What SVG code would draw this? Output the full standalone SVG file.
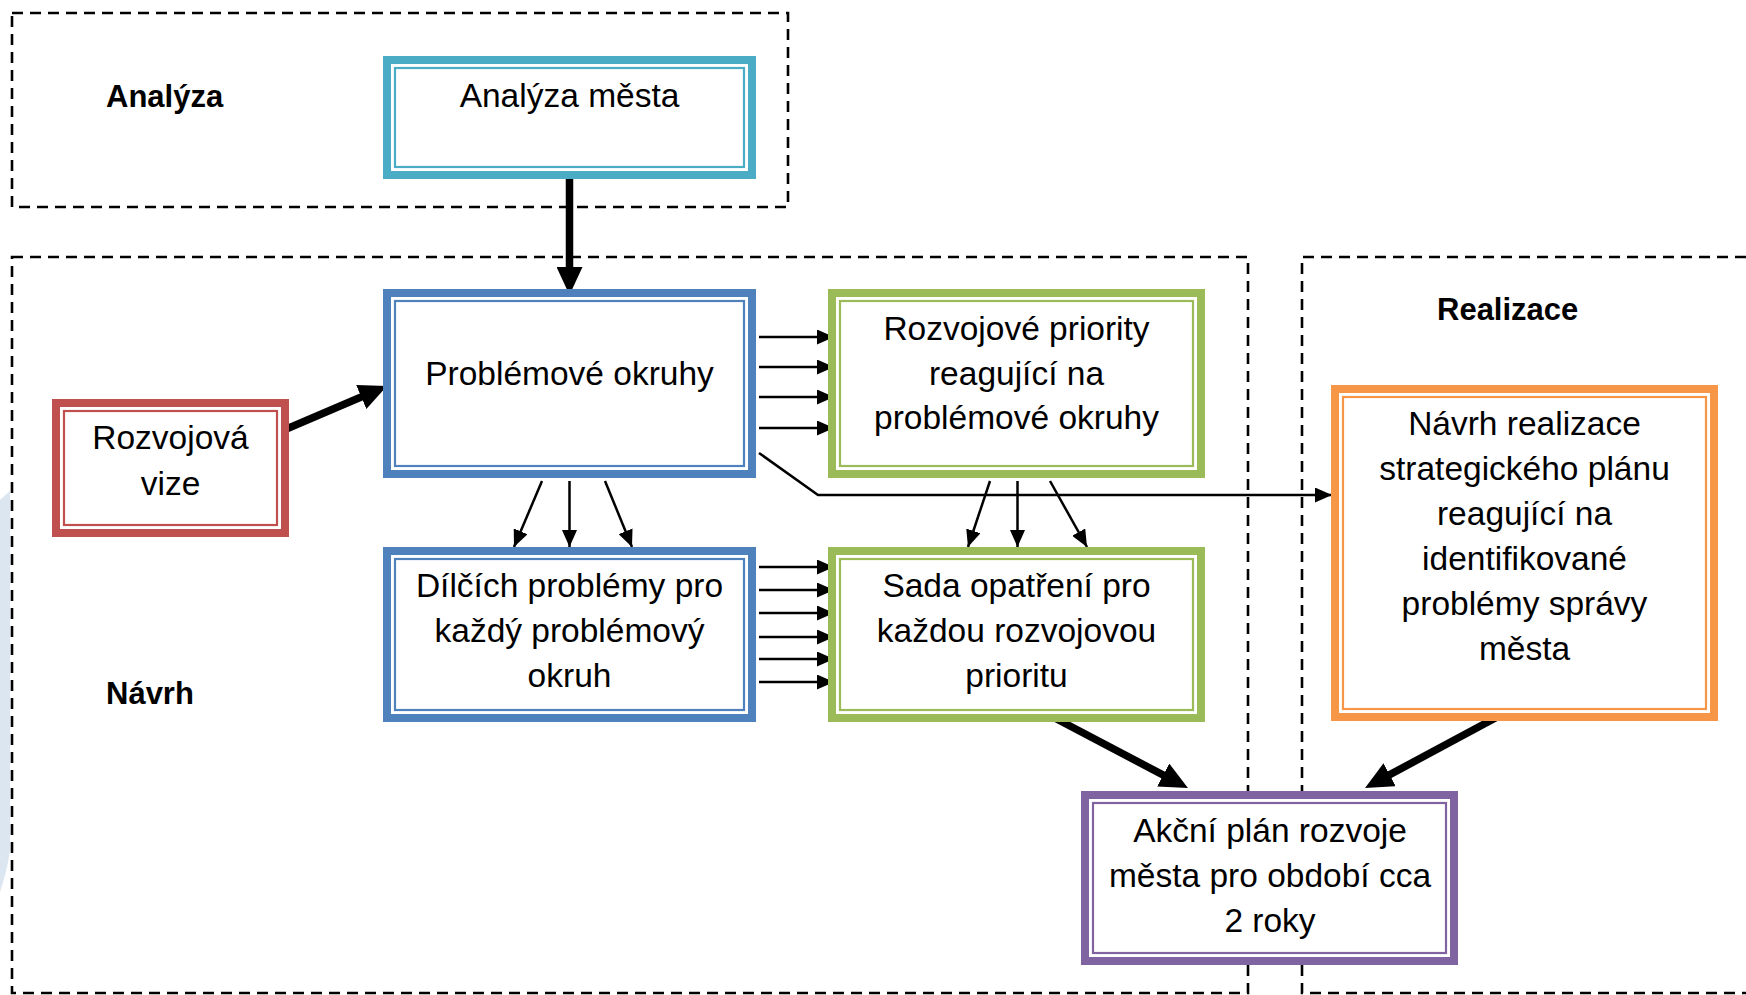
<svg xmlns="http://www.w3.org/2000/svg" width="1746" height="995" viewBox="0 0 1746 995">
  <defs>
    <style>
      .zone { fill: none; stroke: #000; stroke-width: 2.6; stroke-dasharray: 11 7; }
      .zlabel { font-family: "Liberation Sans", Arial, sans-serif; font-weight: bold; font-size: 31px; fill: #000; }
      .txt { font-family: "Liberation Sans", Arial, sans-serif; font-size: 33.5px; fill: #000; text-anchor: middle; }
      .outer { fill: #fff; stroke-width: 8; }
      .inner { fill: none; stroke-width: 2.2; }
      .thick { fill: none; stroke: #000; stroke-width: 7.5; }
      .thin { fill: none; stroke: #000; stroke-width: 2.5; }
    </style>
    <marker id="big" markerUnits="userSpaceOnUse" markerWidth="28" markerHeight="26" refX="12" refY="13" orient="auto">
      <path d="M0,0 L28,13 L0,26 Z" fill="#000"/>
    </marker>
    <marker id="small" markerUnits="userSpaceOnUse" markerWidth="17" markerHeight="15" refX="17" refY="7.5" orient="auto">
      <path d="M0,0 L17,7.5 L0,15 Z" fill="#000"/>
    </marker>
  </defs>

  <rect width="1746" height="995" fill="#fff"/>
  <path d="M0,500 L10,491 L10,850 C8,865 4,880 0,892 Z" fill="#DCE6F1"/>

  <g id="zones">
    <rect class="zone" x="12" y="13" width="776" height="194"/>
    <rect class="zone" x="12" y="257" width="1236" height="736"/>
    <path class="zone" d="M1746,257 H1302 V993 H1746"/>
    <text class="zlabel" x="106" y="107">Analýza</text>
    <text class="zlabel" x="106" y="704">Návrh</text>
    <text class="zlabel" x="1437" y="320">Realizace</text>
  </g>

  <g id="connectors">
    <line class="thick" x1="569.5" y1="179" x2="569.5" y2="279" marker-end="url(#big)"/>
    <line class="thick" x1="284" y1="430" x2="372.3" y2="392.3" marker-end="url(#big)"/>
    <line class="thick" x1="1051" y1="716" x2="1173.8" y2="780.6" marker-end="url(#big)"/>
    <line class="thick" x1="1499" y1="716" x2="1379.1" y2="780.4" marker-end="url(#big)"/>

    <line class="thin" x1="759" y1="337" x2="834" y2="337" marker-end="url(#small)"/>
    <line class="thin" x1="759" y1="367" x2="834" y2="367" marker-end="url(#small)"/>
    <line class="thin" x1="759" y1="397" x2="834" y2="397" marker-end="url(#small)"/>
    <line class="thin" x1="759" y1="428" x2="834" y2="428" marker-end="url(#small)"/>

    <line class="thin" x1="759" y1="567" x2="834" y2="567" marker-end="url(#small)"/>
    <line class="thin" x1="759" y1="590" x2="834" y2="590" marker-end="url(#small)"/>
    <line class="thin" x1="759" y1="613" x2="834" y2="613" marker-end="url(#small)"/>
    <line class="thin" x1="759" y1="637" x2="834" y2="637" marker-end="url(#small)"/>
    <line class="thin" x1="759" y1="659" x2="834" y2="659" marker-end="url(#small)"/>
    <line class="thin" x1="759" y1="682" x2="834" y2="682" marker-end="url(#small)"/>

    <polyline class="thin" points="759,453 818,495 1332,495" marker-end="url(#small)"/>

    <line class="thin" x1="542" y1="481" x2="514" y2="547" marker-end="url(#small)"/>
    <line class="thin" x1="569.5" y1="481" x2="569.5" y2="547" marker-end="url(#small)"/>
    <line class="thin" x1="605" y1="481" x2="632" y2="547" marker-end="url(#small)"/>

    <line class="thin" x1="990" y1="481" x2="968" y2="547" marker-end="url(#small)"/>
    <line class="thin" x1="1017.5" y1="481" x2="1017.5" y2="547" marker-end="url(#small)"/>
    <line class="thin" x1="1050" y1="481" x2="1087" y2="547" marker-end="url(#small)"/>
  </g>

  <g id="analyza-mesta">
    <rect class="outer" x="387" y="60" width="365" height="115" stroke="#4BACC6"/>
    <rect class="inner" x="395" y="68" width="349" height="99" stroke="#4BACC6"/>
    <text class="txt" x="569.5" y="107">Analýza města</text>
  </g>

  <g id="problemove-okruhy">
    <rect class="outer" x="387" y="293" width="365" height="181" stroke="#4F81BD"/>
    <rect class="inner" x="395" y="301" width="349" height="165" stroke="#4F81BD"/>
    <text class="txt" x="569.5" y="385">Problémové okruhy</text>
  </g>

  <g id="rozvojova-vize">
    <rect class="outer" x="56" y="403" width="229" height="130" stroke="#C0504D"/>
    <rect class="inner" x="64" y="411" width="213" height="114" stroke="#C0504D"/>
    <text class="txt" x="170.5" y="449">Rozvojová</text>
    <text class="txt" x="170.5" y="495">vize</text>
  </g>

  <g id="rozvojove-priority">
    <rect class="outer" x="832" y="293" width="369" height="181" stroke="#9BBB59"/>
    <rect class="inner" x="840" y="301" width="353" height="165" stroke="#9BBB59"/>
    <text class="txt" x="1016.5" y="340">Rozvojové priority</text>
    <text class="txt" x="1016.5" y="385">reagující na</text>
    <text class="txt" x="1016.5" y="429">problémové okruhy</text>
  </g>

  <g id="dilci-problemy">
    <rect class="outer" x="387" y="551" width="365" height="167" stroke="#4F81BD"/>
    <rect class="inner" x="395" y="559" width="349" height="151" stroke="#4F81BD"/>
    <text class="txt" x="569.5" y="597">Dílčích problémy pro</text>
    <text class="txt" x="569.5" y="642">každý problémový</text>
    <text class="txt" x="569.5" y="687">okruh</text>
  </g>

  <g id="sada-opatreni">
    <rect class="outer" x="832" y="551" width="369" height="167" stroke="#9BBB59"/>
    <rect class="inner" x="840" y="559" width="353" height="151" stroke="#9BBB59"/>
    <text class="txt" x="1016.5" y="597">Sada opatření pro</text>
    <text class="txt" x="1016.5" y="642">každou rozvojovou</text>
    <text class="txt" x="1016.5" y="687">prioritu</text>
  </g>

  <g id="navrh-realizace">
    <rect class="outer" x="1335" y="389" width="379" height="328" stroke="#F79646"/>
    <rect class="inner" x="1343" y="397" width="363" height="312" stroke="#F79646"/>
    <text class="txt" x="1524.5" y="435">Návrh realizace</text>
    <text class="txt" x="1524.5" y="480">strategického plánu</text>
    <text class="txt" x="1524.5" y="525">reagující na</text>
    <text class="txt" x="1524.5" y="570">identifikované</text>
    <text class="txt" x="1524.5" y="615">problémy správy</text>
    <text class="txt" x="1524.5" y="660">města</text>
  </g>

  <g id="akcni-plan">
    <rect class="outer" x="1085" y="795" width="369" height="166" stroke="#8064A2"/>
    <rect class="inner" x="1093" y="803" width="353" height="150" stroke="#8064A2"/>
    <text class="txt" x="1270" y="842">Akční plán rozvoje</text>
    <text class="txt" x="1270" y="887">města pro období cca</text>
    <text class="txt" x="1270" y="932">2 roky</text>
  </g>
</svg>
